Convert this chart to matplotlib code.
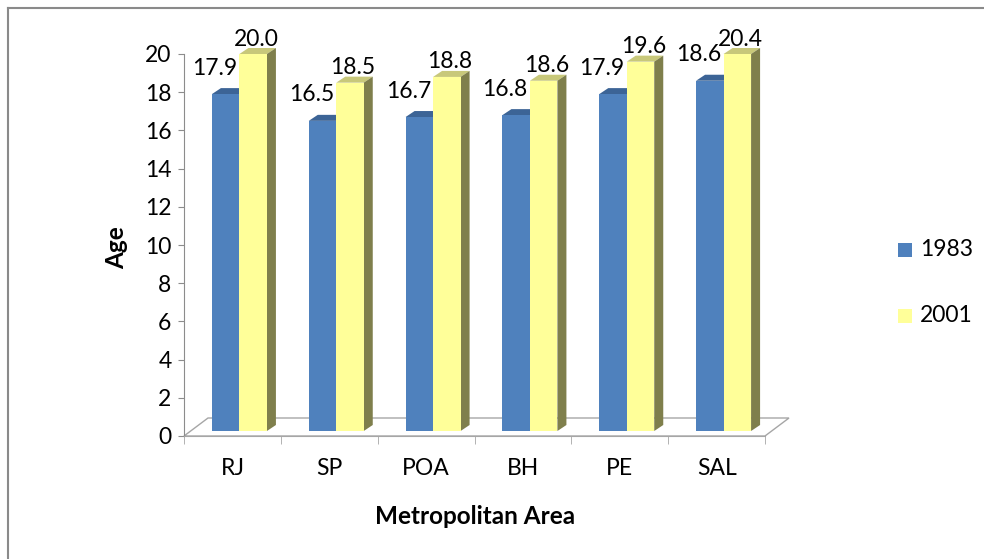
import matplotlib.pyplot as plt
from matplotlib.patches import Polygon
from matplotlib.lines import Line2D

plt.rcParams['font.family'] = ['Lato', 'DejaVu Sans']

areas = ['RJ', 'SP', 'POA', 'BH', 'PE', 'SAL']
age_1983 = [17.9, 16.5, 16.7, 16.8, 17.9, 18.6]
age_2001 = [20.0, 18.5, 18.8, 18.6, 19.6, 20.4]
series_names = ['1983', '2001']
yticks = list(range(0, 21, 2))

W, H = 984, 559
YMAX = 20
FS = 16.5

# plot area in pixels (front floor edge / y axis)
x_left, x_right = 184, 765
y_bot, y_top = 436, 54

fig = plt.figure(figsize=(W / 100, H / 100), dpi=100)
ax = fig.add_axes([x_left / W, (H - y_bot) / H,
                   (x_right - x_left) / W, (y_bot - y_top) / H])
ax.set_xlim(-0.5, len(areas) - 0.5)
ax.set_ylim(0, YMAX)

# pixel -> data unit conversions
px_x = len(areas) / (x_right - x_left)
px_y = YMAX / (y_bot - y_top)

grey = '#8c8c8c'

# floor of the 3d plot
fdx, fdy = 24 * px_x, 18 * px_y
x0, x1 = -0.5, len(areas) - 0.5
floor = [(x0, 0), (x1, 0), (x1 + fdx, fdy), (x0 + fdx, fdy)]
ax.add_patch(Polygon(floor, closed=True, facecolor='white', edgecolor='#a6a6a6',
                     lw=1, clip_on=False, zorder=1))

# bars
bw = 27.5 * px_x
shift = 7 * px_x
base = 5 * px_y
ddx, ddy = 9 * px_x, 6 * px_y

front_cols = ['#4f81bd', '#ffff99']
top_cols = ['#3c6496', '#c8c87a']
side_cols = ['#385d8a', '#7f7f4c']


def draw_bar(xl, v, k):
    # bars taller than the axis are cut at the top, like the 3d chart does
    h = min(v, YMAX)
    xr = xl + bw
    top = [(xl, h), (xr, h), (xr + ddx, h + ddy), (xl + ddx, h + ddy)]
    side = [(xr, base), (xr + ddx, base + ddy), (xr + ddx, h + ddy), (xr, h)]
    front = [(xl, base), (xr, base), (xr, h), (xl, h)]
    for pts, c in [(top, top_cols[k]), (side, side_cols[k]), (front, front_cols[k])]:
        ax.add_patch(Polygon(pts, closed=True, facecolor=c, edgecolor='none',
                             clip_on=False, zorder=3))


label_off = [(-11 * 0.72, 26 * 0.72), (3 * 0.72, 15 * 0.72)]
for i in range(len(areas)):
    for k, vals in enumerate([age_1983, age_2001]):
        xl = i + shift - bw + k * bw
        draw_bar(xl, vals[i], k)
        ax.annotate(f'{vals[i]:.1f}', (xl + bw / 2, min(vals[i], YMAX)),
                    xytext=label_off[k], textcoords='offset points',
                    ha='center', va='center', fontsize=FS, zorder=5,
                    annotation_clip=False)

# axes styling
for s in ['top', 'right']:
    ax.spines[s].set_visible(False)
ax.spines['left'].set_color(grey)
ax.spines['bottom'].set_color('#a6a6a6')
ax.set_yticks(yticks)
ax.tick_params(axis='y', length=4, color=grey, pad=5, labelsize=FS)
ax.set_xticks(range(len(areas)))
ax.set_xticklabels(areas)
ax.set_xticks([i - 0.5 for i in range(len(areas) + 1)], minor=True)
ax.tick_params(axis='x', which='major', length=0, pad=16, labelsize=FS)
ax.tick_params(axis='x', which='minor', length=6, color='#a6a6a6')
ax.patch.set_alpha(0)

fig.text(117 / W, 1 - 248 / H, 'Age', rotation=90, ha='center', va='center',
         fontsize=17.5, fontweight='bold')
fig.text(475 / W, 1 - 516 / H, 'Metropolitan Area', ha='center', va='center',
         fontsize=17.5, fontweight='bold')

# legend
for k, name in enumerate(series_names):
    yc = [250, 316][k]
    fig.patches.append(plt.Rectangle((898 / W, 1 - (yc + 7) / H), 14 / W, 14 / H,
                                     facecolor=front_cols[k], edgecolor='none',
                                     transform=fig.transFigure))
    fig.text(920 / W, 1 - yc / H, name, ha='left', va='center', fontsize=FS)

# chart border
fig.add_artist(Line2D([8 / W, 8 / W], [0, 1 - 8 / H], color='#8a8a8a', lw=1.5,
                      transform=fig.transFigure))
fig.add_artist(Line2D([8 / W, 1], [1 - 8 / H, 1 - 8 / H], color='#8a8a8a', lw=1.5,
                      transform=fig.transFigure))

fig.savefig('out.png', dpi=100)
